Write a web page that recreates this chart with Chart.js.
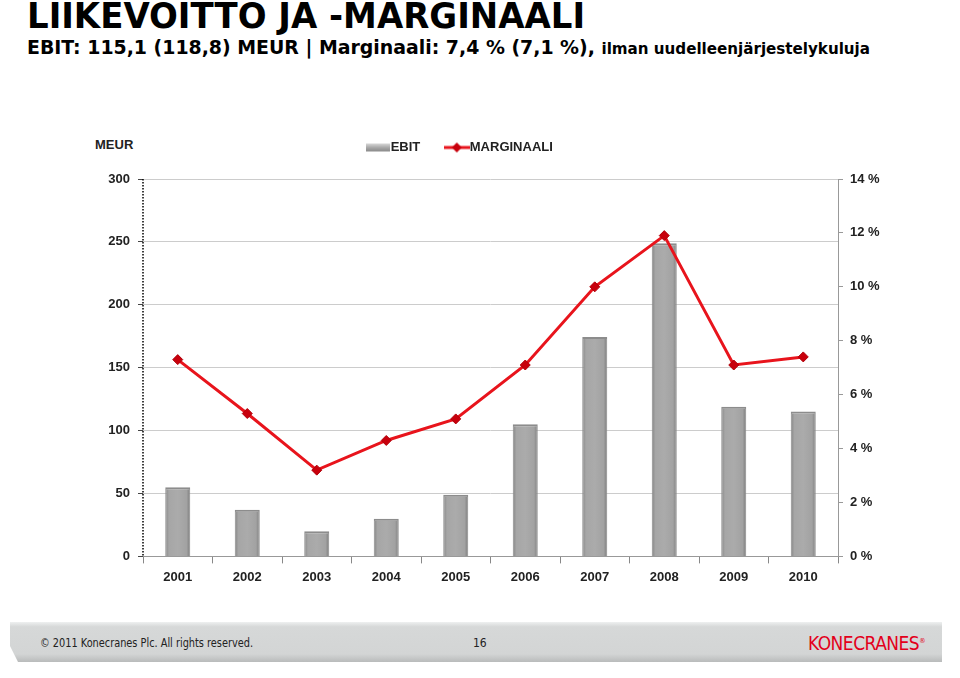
<!DOCTYPE html>
<html>
<head>
<meta charset="utf-8">
<script src="https://cdn.jsdelivr.net/npm/chart.js@4"></script>
<style>
  html, body { margin: 0; padding: 0; background: #fff; }
  body { width: 960px; height: 678px; position: relative; overflow: hidden; font-family: "Liberation Sans", Arial, sans-serif; }
  .fit { position: absolute; white-space: nowrap; transform-origin: 0 0; }
  #title { left: 27px; top: -4px; font: bold 36px/40px "DejaVu Sans Condensed", "DejaVu Sans", sans-serif; color: #000; }
  #subtitle { left: 27px; top: 35px; font: bold 20px/24px "DejaVu Sans Condensed", "DejaVu Sans", sans-serif; color: #000; }
  #subtitle span { font-size: 16px; }
  #meur { position: absolute; left: 95px; top: 137px; font: bold 13px "Liberation Sans", Arial, sans-serif; color: #222; }
  #chartBox { position: absolute; left: 0; top: 111px; width: 960px; height: 498px; }
  #footer { position: absolute; left: 10px; top: 622px; width: 932px; height: 40px;
    background: linear-gradient(#eef0f0 0%, #d6d8d8 12%, #d3d5d5 80%, #b9bbbb 100%);
    clip-path: polygon(0 0, 100% 0, 100% 100%, 8px 100%, 0 60%);
    box-shadow: 0 4px 6px rgba(0,0,0,0.2); }
  .foot { position: absolute; font: 12px "DejaVu Sans Condensed", "Liberation Sans", sans-serif; color: #222; }
  #logo { position: absolute; left: 808px; top: 632px; font: 19px "DejaVu Sans Condensed", "Liberation Sans", sans-serif; color: #e3001b; letter-spacing: -0.5px; }
  #logo sup { font-size: 7px; }
</style>
</head>
<body>
<div id="title" class="fit" data-w="558">LIIKEVOITTO JA -MARGINAALI</div>
<div id="subtitle" class="fit" data-w="843">EBIT: 115,1 (118,8) MEUR | Marginaali: 7,4 % (7,1 %), <span>ilman uudelleenjärjestelykuluja</span></div>
<div id="meur">MEUR</div>
<div id="chartBox"><canvas id="comboChart" width="960" height="498"></canvas></div>
<div id="footer"></div>
<div class="foot fit" data-w="213" style="left:40px; top:636px;">© 2011 Konecranes Plc. All rights reserved.</div>
<div class="foot" style="left:473px; top:636px;">16</div>
<div id="logo" class="fit" data-w="117">KONECRANES<sup>®</sup></div>

<script>
// chart data
const years = ["2001", "2002", "2003", "2004", "2005", "2006", "2007", "2008", "2009", "2010"];
const ebit = [55, 37, 20, 30, 49, 105, 174.5, 249, 119, 115.1];
const margin = [7.3, 5.3, 3.2, 4.3, 5.1, 7.1, 10.0, 11.9, 7.1, 7.4];
const seriesLabels = ["EBIT", "MARGINAALI"];

// stretch the condensed texts to the widths in the slide
document.querySelectorAll(".fit").forEach(function (el) {
  const target = parseFloat(el.dataset.w);
  const w = el.getBoundingClientRect().width;
  if (w > 0) el.style.transform = "scaleX(" + (target / w) + ")";
});

// small legend symbols
function barSymbol() {
  const c = document.createElement("canvas");
  c.width = 24; c.height = 10;
  const g = c.getContext("2d");
  const grd = g.createLinearGradient(0, 1, 0, 9);
  grd.addColorStop(0, "#d8d8d8");
  grd.addColorStop(0.5, "#a8a8a8");
  grd.addColorStop(1, "#8a8a8a");
  g.fillStyle = grd;
  g.fillRect(0, 1, 24, 8);
  return c;
}
function lineSymbol() {
  const c = document.createElement("canvas");
  c.width = 26; c.height = 12;
  const g = c.getContext("2d");
  g.strokeStyle = "#e8141c";
  g.lineWidth = 3;
  g.beginPath(); g.moveTo(0, 6); g.lineTo(26, 6); g.stroke();
  g.fillStyle = "#c8000c";
  g.beginPath(); g.moveTo(13, 1); g.lineTo(18, 6); g.lineTo(13, 11); g.lineTo(8, 6); g.closePath(); g.fill();
  return c;
}

const legendGap = {
  id: "legendGap",
  beforeInit(chart) {
    const fit = chart.legend.fit;
    chart.legend.fit = function () {
      fit.bind(chart.legend)();
      this.height += 15;
    };
  },
};

// shaded look of the bars: a horizontal gradient per bar
const barShade = {
  id: "barShade",
  beforeDatasetDraw(chart, args) {
    if (args.meta.type !== "bar") return;
    const c = chart.ctx;
    args.meta.data.forEach(function (bar) {
      const half = bar.width / 2;
      const grd = c.createLinearGradient(bar.x - half, 0, bar.x + half, 0);
      grd.addColorStop(0, "#858585");
      grd.addColorStop(0.15, "#a6a6a6");
      grd.addColorStop(0.5, "#ababab");
      grd.addColorStop(0.85, "#a2a2a2");
      grd.addColorStop(1, "#7c7c7c");
      bar.options = Object.assign({}, bar.options, { backgroundColor: grd });
    });
  },
};

// dotted left axis line (border.dash would dash the grid lines too)
const leftAxisDots = {
  id: "leftAxisDots",
  beforeDatasetsDraw(chart) {
    const s = chart.scales.y;
    const c = chart.ctx;
    c.save();
    c.setLineDash([1.5, 1.5]);
    c.strokeStyle = "#000";
    c.lineWidth = 1.5;
    c.beginPath();
    c.moveTo(s.right, s.top);
    c.lineTo(s.right, s.bottom);
    c.stroke();
    c.restore();
  },
};

const ctx = document.getElementById("comboChart").getContext("2d");
const symbols = [barSymbol(), lineSymbol()];

const comboChart = new Chart(ctx, {
  type: "bar",
  data: {
    labels: years,
    datasets: [
      {
        type: "bar",
        label: seriesLabels[0],
        data: ebit,
        yAxisID: "y",
        backgroundColor: "#a4a4a4",
        borderColor: "#8c8c8c",
        borderWidth: { top: 2, left: 1, right: 1, bottom: 0 },
        barPercentage: 0.72,
        categoryPercentage: 0.5,
        order: 2,
      },
      {
        type: "line",
        label: seriesLabels[1],
        data: margin,
        yAxisID: "y1",
        borderColor: "#e8141c",
        borderWidth: 3,
        tension: 0,
        pointStyle: "rectRot",
        pointRadius: 5,
        pointBackgroundColor: "#c8000c",
        pointBorderColor: "#b0000a",
        pointBorderWidth: 1,
        order: 1,
      },
    ],
  },
  options: {
    responsive: false,
    animation: false,
    devicePixelRatio: 1,
    layout: {
      padding: { top: 0, right: 36, bottom: 18, left: 0 },
    },
    scales: {
      x: {
        grid: { drawOnChartArea: false, tickLength: 7, color: "#888", offset: true },
        border: { color: "#999", width: 1 },
        ticks: { color: "#222", font: { family: "Liberation Sans", size: 13, weight: "bold" }, padding: 6 },
      },
      y: {
        position: "left",
        min: 0,
        max: 300,
        ticks: { stepSize: 50, color: "#222", font: { family: "Liberation Sans", size: 13, weight: "bold" }, padding: 8 },
        grid: { color: "#cccccc", lineWidth: 1, tickLength: 5, tickColor: "#444" },
        border: { display: false },
        afterFit(scale) { scale.width = 143; },
      },
      y1: {
        position: "right",
        min: 0,
        max: 14,
        ticks: {
          stepSize: 2,
          color: "#222",
          font: { family: "Liberation Sans", size: 13, weight: "bold" },
          padding: 7,
          callback: function (value) { return value + " %"; },
        },
        grid: { drawOnChartArea: false, tickLength: 5, color: "#999" },
        border: { color: "#999", width: 1 },
        afterFit(scale) { scale.width = 86; },
      },
    },
    plugins: {
      tooltip: { enabled: false },
      legend: {
        position: "top",
        align: "center",
        labels: {
          usePointStyle: true,
          color: "#222",
          font: { family: "Liberation Sans", size: 13, weight: "bold" },
          padding: 30,
          generateLabels: function (chart) {
            return chart.data.datasets.map(function (ds, i) {
              return {
                text: ds.label,
                pointStyle: symbols[i],
                fontColor: "#222",
                hidden: false,
                datasetIndex: i,
                lineWidth: 0,
              };
            });
          },
        },
      },
    },
  },
  plugins: [legendGap, barShade, leftAxisDots],
});
</script>
</body>
</html>
